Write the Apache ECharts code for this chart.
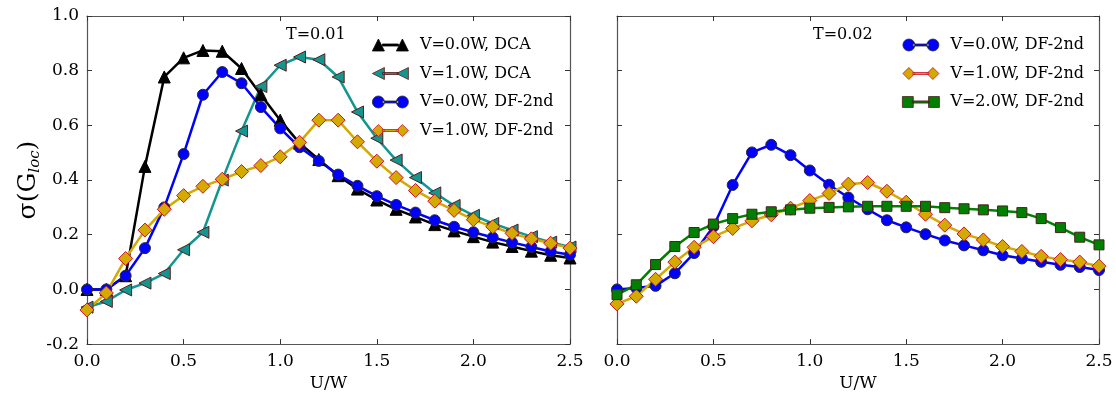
<!DOCTYPE html>
<html>
<head>
<meta charset="utf-8">
<script src="https://cdn.jsdelivr.net/npm/echarts@6/dist/echarts.min.js"></script>
<style>
  html, body { margin: 0; padding: 0; background: #fff; }
  #chart { width: 1116px; height: 397px; }
</style>
</head>
<body>
<div id="chart"></div>
<script>
// U/W grid shared by every curve
const uw = [0, 0.1, 0.2, 0.3, 0.4, 0.5, 0.6, 0.7, 0.8, 0.9, 1.0, 1.1, 1.2,
  1.3, 1.4, 1.5, 1.6, 1.7, 1.8, 1.9, 2.0, 2.1, 2.2, 2.3, 2.4, 2.5]

// T=0.01 panel
const v0DcaT1 = [0.0, 0.0, 0.05, 0.45, 0.777, 0.847, 0.874, 0.871, 0.808, 0.712, 0.619, 0.535, 0.475,
  0.416, 0.367, 0.327, 0.293, 0.265, 0.237, 0.214, 0.193, 0.173, 0.157, 0.140, 0.125, 0.115]
const v1DcaT1 = [-0.065, -0.044, -0.002, 0.023, 0.058, 0.145, 0.209, 0.40, 0.579, 0.742, 0.82, 0.85, 0.84,
  0.777, 0.649, 0.553, 0.473, 0.409, 0.353, 0.307, 0.271, 0.241, 0.217, 0.193, 0.173, 0.155]
const v0DfT1 = [0.0, 0.0, 0.05, 0.151, 0.30, 0.495, 0.712, 0.795, 0.754, 0.667, 0.589, 0.52, 0.47,
  0.42, 0.379, 0.341, 0.309, 0.281, 0.253, 0.229, 0.209, 0.190, 0.172, 0.155, 0.139, 0.127]
const v1DfT1 = [-0.075, -0.013, 0.113, 0.217, 0.293, 0.343, 0.377, 0.403, 0.431, 0.453, 0.485, 0.538, 0.619,
  0.619, 0.54, 0.469, 0.409, 0.362, 0.323, 0.289, 0.255, 0.229, 0.205, 0.185, 0.169, 0.151]

// T=0.02 panel
const v0DfT2 = [0.0, 0.005, 0.013, 0.059, 0.133, 0.23, 0.382, 0.501, 0.529, 0.491, 0.435, 0.383, 0.336,
  0.293, 0.253, 0.227, 0.202, 0.179, 0.161, 0.143, 0.125, 0.113, 0.101, 0.09, 0.082, 0.071]
const v1DfT2 = [-0.053, -0.025, 0.037, 0.1, 0.154, 0.193, 0.223, 0.251, 0.273, 0.297, 0.325, 0.351, 0.385,
  0.391, 0.359, 0.319, 0.275, 0.235, 0.203, 0.181, 0.157, 0.139, 0.121, 0.109, 0.1, 0.085]
const v2DfT2 = [-0.019, 0.017, 0.091, 0.157, 0.208, 0.239, 0.259, 0.275, 0.284, 0.291, 0.297, 0.3, 0.302,
  0.304, 0.304, 0.304, 0.304, 0.299, 0.295, 0.291, 0.287, 0.281, 0.259, 0.226, 0.191, 0.163]

const xTicks = [0, 0.5, 1.0, 1.5, 2.0, 2.5]
const yTicks = [-0.2, 0.0, 0.2, 0.4, 0.6, 0.8, 1.0]

const FONT = "DejaVu Serif"
const pairs = ys => uw.map((x, i) => [x, ys[i]])

// legend icons drawn like matplotlib's two-marker handles
const bar = " M10 5 L26 5 L26 7 L10 7 Z"
const icons = {
  tri: "path://M0 12 L6 0 L12 12 Z M24 12 L30 0 L36 12 Z" + bar,
  ltri: "path://M0 6 L12 0 L12 12 Z M24 6 L36 0 L36 12 Z" + bar,
  circ: "path://M0 6 A6 6 0 1 0 12 6 A6 6 0 1 0 0 6 Z M24 6 A6 6 0 1 0 36 6 A6 6 0 1 0 24 6 Z" + bar,
  dia: "path://M0 6 L6 0 L12 6 L6 12 Z M24 6 L30 0 L36 6 L30 12 Z" + bar,
  sq: "path://M1 1 L11 1 L11 11 L1 11 Z M25 1 L35 1 L35 11 L25 11 Z" + bar,
}

const styles = {
  black: { color: "#000000", edge: "#000000", symbol: "triangle", size: 12, icon: icons.tri },
  teal: { color: "#13968f", edge: "#5a1c1c", symbol: "triangle", rotate: 90, size: 12, icon: icons.ltri },
  blue: { color: "#0000ff", edge: "#2a2a2a", symbol: "circle", size: 11, icon: icons.circ },
  gold: { color: "#d4aa00", edge: "#cc1030", symbol: "diamond", size: 14, icon: icons.dia },
  green: { color: "#008000", edge: "#4a2020", symbol: "rect", size: 10, icon: icons.sq },
}

function line(name, ys, st, idx) {
  return {
    name: name,
    type: "line",
    xAxisIndex: idx,
    yAxisIndex: idx,
    data: pairs(ys),
    symbol: st.symbol,
    symbolSize: st.size,
    symbolRotate: st.rotate || 0,
    showAllSymbol: true,
    lineStyle: { color: st.color, width: 2.5 },
    itemStyle: { color: st.color, borderColor: st.edge, borderWidth: 1 },
    emphasis: { disabled: true },
    animation: false,
    z: 3,
  }
}

function legendItem(name, st) {
  return { name: name, icon: st.icon, itemStyle: { color: st.color, borderColor: st.edge, borderWidth: 0.8 } }
}

const axisLine = { show: true, onZero: false, lineStyle: { color: "#555", width: 1.2 } }
const tickIn = { show: true, inside: true, length: 5, lineStyle: { color: "#333" } }

function xAx(idx, pos, labels) {
  return {
    type: "value", gridIndex: idx, position: pos, min: 0, max: 2.5, interval: 0.5,
    name: labels ? "U/W" : "", nameLocation: "middle", nameGap: 30,
    nameTextStyle: { fontFamily: FONT, fontSize: 17, color: "#000" },
    axisLine: axisLine, axisTick: tickIn, splitLine: { show: false },
    axisLabel: { show: labels, fontFamily: FONT, fontSize: 17, color: "#000", margin: 9,
      formatter: v => xTicks.includes(v) ? v.toFixed(1) : "" },
  }
}

function yAx(idx, pos, labels, withName) {
  return {
    type: "value", gridIndex: idx, position: pos, min: -0.2, max: 1.0, interval: 0.2,
    name: withName ? "{n|σ(G}{s|loc}{n|)}" : "", nameLocation: "middle", nameGap: 42, nameRotate: 90,
    nameTextStyle: {
      rich: {
        n: { fontFamily: FONT, fontSize: 25, color: "#000" },
        s: { fontFamily: FONT, fontSize: 15, fontStyle: "italic", color: "#000", padding: [12, 0, 0, 0] },
      },
    },
    axisLine: axisLine, axisTick: tickIn, splitLine: { show: false },
    axisLabel: { show: labels, fontFamily: FONT, fontSize: 17, color: "#000", margin: 8,
      formatter: v => v.toFixed(1) },
  }
}

const names1 = ["V=0.0W, DCA", "V=1.0W, DCA", "V=0.0W, DF-2nd", "V=1.0W, DF-2nd"]
const names2 = ["V=0.0W, DF-2nd ", "V=1.0W, DF-2nd ", "V=2.0W, DF-2nd "]

const chart = echarts.init(document.getElementById("chart"), null, { renderer: "canvas" })
chart.setOption({
  animation: false,
  backgroundColor: "#fff",
  grid: [
    { left: 87, top: 16, width: 483, height: 333 },
    { left: 617, top: 16, width: 482, height: 333 },
  ],
  xAxis: [xAx(0, "bottom", true), xAx(1, "bottom", true), xAx(0, "top", false), xAx(1, "top", false)],
  yAxis: [yAx(0, "left", true, true), yAx(1, "left", false, false), yAx(0, "right", false, false), yAx(1, "right", false, false)],
  title: [
    { text: "T=0.01", left: 281, top: 22, textStyle: { fontFamily: FONT, fontSize: 16, fontWeight: "normal", color: "#000" } },
    { text: "T=0.02", left: 808, top: 22, textStyle: { fontFamily: FONT, fontSize: 16, fontWeight: "normal", color: "#000" } },
  ],
  legend: [
    {
      left: 367, top: 32, orient: "vertical", itemWidth: 37, itemHeight: 12, itemGap: 12.5,
      textStyle: { fontFamily: FONT, fontSize: 16, color: "#000", padding: [0, 0, 0, 6] },
      selectedMode: false,
      data: [legendItem(names1[0], styles.black), legendItem(names1[1], styles.teal),
        legendItem(names1[2], styles.blue), legendItem(names1[3], styles.gold)],
    },
    {
      left: 897, top: 32, orient: "vertical", itemWidth: 37, itemHeight: 12, itemGap: 12.5,
      textStyle: { fontFamily: FONT, fontSize: 16, color: "#000", padding: [0, 0, 0, 6] },
      selectedMode: false,
      data: [legendItem(names2[0], styles.blue), legendItem(names2[1], styles.gold), legendItem(names2[2], styles.green)],
    },
  ],
  series: [
    line(names1[1], v1DcaT1, styles.teal, 0),
    line(names1[0], v0DcaT1, styles.black, 0),
    line(names1[2], v0DfT1, styles.blue, 0),
    line(names1[3], v1DfT1, styles.gold, 0),
    line(names2[0], v0DfT2, styles.blue, 1),
    line(names2[1], v1DfT2, styles.gold, 1),
    line(names2[2], v2DfT2, styles.green, 1),
  ],
})
</script>
</body>
</html>
